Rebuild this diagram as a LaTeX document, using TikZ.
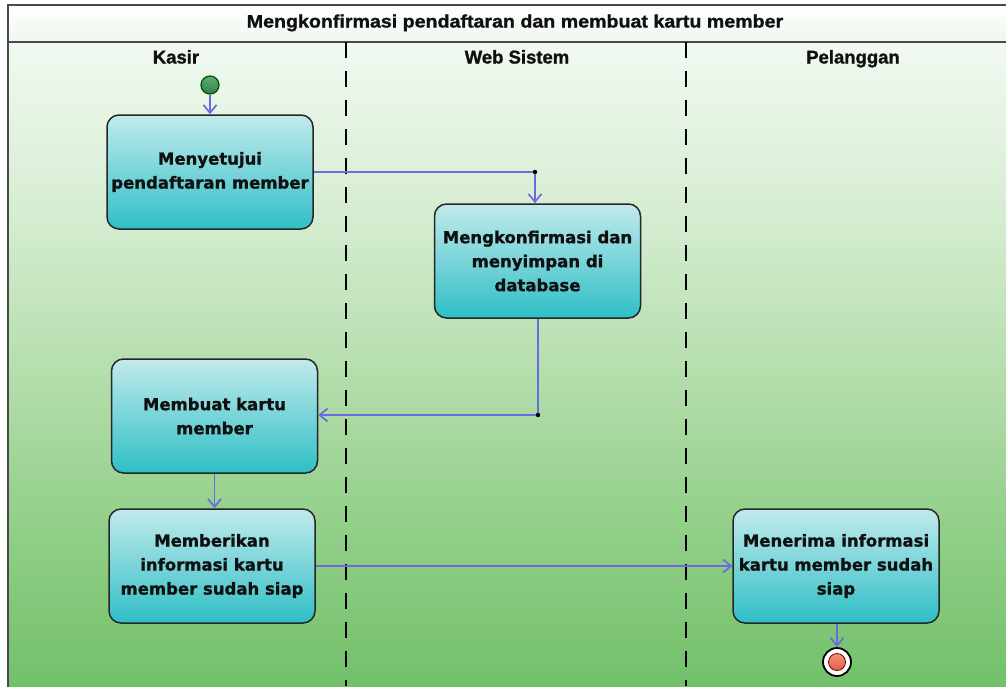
\documentclass[tikz,border=0pt]{standalone}
\usepackage{fontspec}
\usepackage{graphicx}
\setmainfont{Liberation Sans}[BoldFeatures={FakeBold=1.2}]
\newfontfamily\actfont{DejaVu Sans}[BoldFeatures={FakeBold=1.2}]
\usetikzlibrary{arrows.meta}

% colours
\definecolor{framec}{HTML}{4A4A4A}
\definecolor{flowc}{HTML}{6B6BE0}
\definecolor{actTop}{HTML}{C2EAEC}
\definecolor{actBot}{HTML}{2EBFC6}
\definecolor{textc}{HTML}{101010}
\definecolor{bgA}{HTML}{6FBF67}
\definecolor{bgB}{HTML}{94D08B}
\definecolor{bgC}{HTML}{B8DFB0}
\definecolor{bgD}{HTML}{D8EED4}
\definecolor{bgE}{HTML}{F1F9F1}
\definecolor{titleBot}{HTML}{EEF7EE}
\definecolor{startTop}{HTML}{5DB076}
\definecolor{startBot}{HTML}{2E8048}
\definecolor{endTop}{HTML}{F4907C}
\definecolor{endBot}{HTML}{E25C48}

% swimlane background, light at the top and green at the bottom
\pgfdeclareverticalshading{lanebg}{100bp}{%
  color(0bp)=(bgA); color(25bp)=(bgA); color(39bp)=(bgB);
  color(51bp)=(bgC); color(63bp)=(bgD); color(75bp)=(bgE); color(100bp)=(bgE)}

\tikzset{
  frame/.style={draw=framec, line width=2pt},
  lanediv/.style={draw=black, line width=1.8pt, dash pattern=on 15.5pt off 13.5pt},
  lanehdr/.style={inner sep=0, anchor=base, text=textc, font=\bfseries\fontsize{18.5}{20}\selectfont},
  act/.style={draw=black!85, line width=1.5pt, rounded corners=12pt,
    top color=actTop, bottom color=actBot, minimum width=206pt, minimum height=114pt,
    inner sep=0, align=center, text=textc,
    font=\actfont\bfseries\fontsize{16.5}{24}\selectfont},
  flow/.style={draw=flowc, line width=1.7pt,
    -{Straight Barb[length=8pt,width=13pt,line width=1.7pt]}},
  junction/.style={fill=black},
}

\begin{document}
\begin{tikzpicture}[x=1pt,y=-1pt]
\useasboundingbox (0,0) rectangle (1006,686);

% frame, title band and lane area
\begin{scope}
  \clip (0,0) rectangle (1006,686);
  \shade[shading=lanebg] (8,42) rectangle (1030,700);
  \shade[top color=white, bottom color=titleBot] (8,5) rectangle (1030,42);
  \draw[frame] (8,5) rectangle (1030,700);
  \draw[frame] (8,42) -- (1030,42);
\end{scope}

\node[inner sep=0, anchor=base, text=textc, font=\bfseries\fontsize{18}{20}\selectfont] (title) at (515,27.5)
  {\scalebox{1.09}[1]{Mengkonfirmasi pendaftaran dan membuat kartu member}};

% lane dividers
\coordinate (d1top) at (346,42);
\coordinate (d1bot) at (346,686);
\coordinate (d2top) at (686,42);
\coordinate (d2bot) at (686,686);
\draw[lanediv] (d1top) -- (d1bot);
\draw[lanediv] (d2top) -- (d2bot);

% lane headers
\node[lanehdr] (hKasir) at (176,63.5) {Kasir};
\node[lanehdr] (hWeb) at (517,63.5) {Web Sistem};
\node[lanehdr] (hPel) at (853,63.5) {Pelanggan};

% start node
\node[circle, draw=black!70!green, line width=1.2pt, top color=startTop, bottom color=startBot,
  minimum size=18pt, inner sep=0] (start) at (210,85) {};

% activities
\node[act] (setuju) at (210,172) {Menyetujui\\pendaftaran member};
\node[act] (konfirm) at (537.5,261) {Mengkonfirmasi dan\\menyimpan di\\database};
\node[act] (buat) at (214.5,416) {Membuat kartu\\member};
\node[act] (beri) at (212,566) {Memberikan\\informasi kartu\\member sudah siap};
\node[act] (terima) at (836,566) {Menerima informasi\\kartu member sudah\\siap};

% end node
\node[circle, draw=black, line width=1.8pt, fill=white, minimum size=28pt, inner sep=0]
  (finish) at (837,662) {};
\node[circle, draw=red!40!black, line width=0.8pt, top color=endTop, bottom color=endBot,
  minimum size=17pt, inner sep=0] (finishDot) at (finish) {};

% connectors
\coordinate (j1) at (535,172);
\coordinate (j2) at (538,415);
\draw[flow] (start) -- (setuju.north);
\draw[flow] (setuju.east) -- (j1) -- (j1 |- konfirm.north);
\fill[junction] (j1) circle (2.2);
\draw[flow] (j2 |- konfirm.south) -- (j2) -- (j2 -| buat.east);
\fill[junction] (j2) circle (2.2);
\draw[flow] (buat.south) -- (buat.south |- beri.north);
\draw[flow] (beri.east) -- (terima.west);
\draw[flow] (terima.south -| finish) -- (finish.north);
\end{tikzpicture}
\end{document}
